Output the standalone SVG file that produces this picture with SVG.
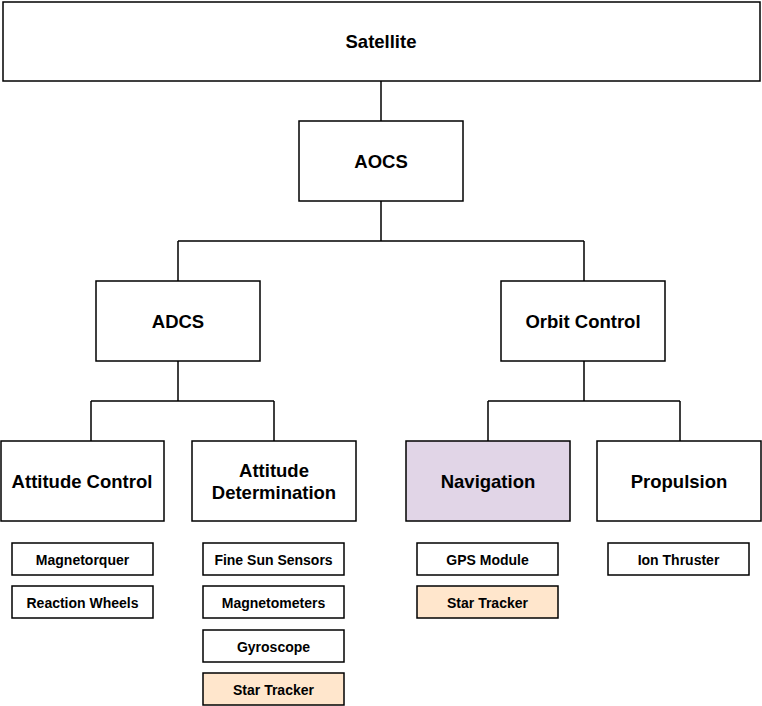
<svg xmlns="http://www.w3.org/2000/svg" width="762" height="706" viewBox="0 0 762 706">
<style>
.box{fill:#ffffff;stroke:#000000;stroke-width:1.5}
.nav{fill:#e1d5e7}
.star{fill:#ffe6cc}
.t{font-family:"Liberation Sans",Arial,sans-serif;font-weight:bold;font-size:18.5px;fill:#000;text-anchor:middle}
.s{font-family:"Liberation Sans",Arial,sans-serif;font-weight:bold;font-size:14px;fill:#000;text-anchor:middle}
.c{fill:none;stroke:#000000;stroke-width:1.5}
</style>
<rect width="762" height="706" fill="#ffffff"/>
<g id="connectors">
<path class="c" d="M381 81V121"/>
<path class="c" d="M381 201V241M178 241H584M178 241V281M584 241V281"/>
<path class="c" d="M178 361V401M91 401H274M91 401V441M274 401V441"/>
<path class="c" d="M584 361V401M488 401H680M488 401V441M680 401V441"/>
</g>
<g id="satellite"><rect class="box" x="3" y="2" width="757" height="79"/><text class="t" x="381" y="48">Satellite</text></g>
<g id="aocs"><rect class="box" x="299" y="121" width="164" height="80"/><text class="t" x="381" y="168">AOCS</text></g>
<g id="adcs"><rect class="box" x="96" y="281" width="164" height="80"/><text class="t" x="178" y="328">ADCS</text></g>
<g id="orbit-control"><rect class="box" x="501" y="281" width="164" height="80"/><text class="t" x="583" y="328">Orbit Control</text></g>
<g id="attitude-control"><rect class="box" x="1" y="441" width="163" height="80"/><text class="t" x="82" y="488">Attitude Control</text></g>
<g id="attitude-determination"><rect class="box" x="192" y="441" width="164" height="80"/><text class="t" x="274" y="477">Attitude</text><text class="t" x="274" y="499">Determination</text></g>
<g id="navigation"><rect class="box nav" x="406" y="441" width="164" height="80"/><text class="t" x="488" y="488">Navigation</text></g>
<g id="propulsion"><rect class="box" x="597" y="441" width="164" height="80"/><text class="t" x="679" y="488">Propulsion</text></g>
<g id="magnetorquer"><rect class="box" x="12" y="543" width="141" height="32"/><text class="s" x="82.5" y="565">Magnetorquer</text></g>
<g id="reaction-wheels"><rect class="box" x="12" y="586" width="141" height="32"/><text class="s" x="82.5" y="608">Reaction Wheels</text></g>
<g id="fine-sun-sensors"><rect class="box" x="203" y="543" width="141" height="32"/><text class="s" x="273.5" y="565">Fine Sun Sensors</text></g>
<g id="magnetometers"><rect class="box" x="203" y="586" width="141" height="32"/><text class="s" x="273.5" y="608">Magnetometers</text></g>
<g id="gyroscope"><rect class="box" x="203" y="630" width="141" height="32"/><text class="s" x="273.5" y="652">Gyroscope</text></g>
<g id="star-tracker-ad"><rect class="box star" x="203" y="673" width="141" height="32"/><text class="s" x="273.5" y="695">Star Tracker</text></g>
<g id="gps-module"><rect class="box" x="417" y="543" width="141" height="32"/><text class="s" x="487.5" y="565">GPS Module</text></g>
<g id="star-tracker-nav"><rect class="box star" x="417" y="586" width="141" height="32"/><text class="s" x="487.5" y="608">Star Tracker</text></g>
<g id="ion-thruster"><rect class="box" x="608" y="543" width="141" height="32"/><text class="s" x="678.5" y="565">Ion Thruster</text></g>
</svg>
